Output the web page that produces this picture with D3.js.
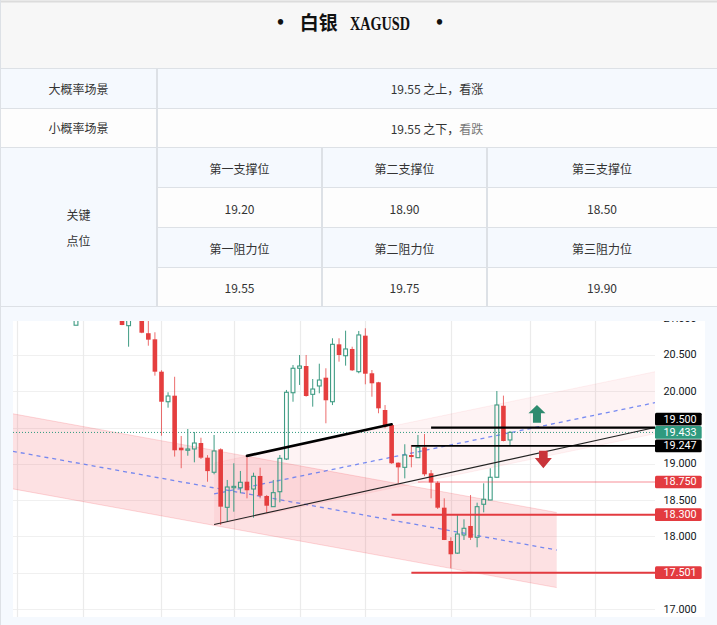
<!DOCTYPE html>
<html><head><meta charset="utf-8">
<script src="https://cdn.jsdelivr.net/npm/d3@7"></script>
<style>html,body{margin:0;padding:0;background:#fff;}svg{display:block}</style>
</head><body>
<svg id="c" width="717" height="625"></svg>
<script>
// ---------- text data ----------
const titleParts = ["•", "白银", "XAGUSD", "•"];
const scenarioLabels = ["大概率场景", "小概率场景"];
const scenarioTexts = [["19.55 之上，看涨"], ["19.55 之下，", "看跌"]];
const keyLabel = ["关键", "点位"];
const supportNames = ["第一支撑位", "第二支撑位", "第三支撑位"];
const supportValues = ["19.20", "18.90", "18.50"];
const resistNames = ["第一阻力位", "第二阻力位", "第三阻力位"];
const resistValues = ["19.55", "19.75", "19.90"];

// ---------- candle data (bar index 0..66) ----------
const opens  = [20.91,21.20,21.38,21.48,21.42,21.30,21.22,21.15,20.904,21.10,21.25,20.80,20.716,20.27,19.856,19.939,19.223,19.187,19.205,19.287,19.085,18.884,19.20,18.401,18.671,18.671,18.754,18.653,18.833,18.557,18.41,18.616,19.067,19.98,20.317,20.348,19.958,20.073,20.187,19.856,20.647,20.49,20.583,20.27,20.766,20.248,20.124,19.742,19.535,19.016,18.952,19.122,19.085,19.228,18.87,18.74,18.396,17.937,17.77,18.02,18.144,17.988,18.443,18.502,18.815,19.80,19.329];
const highs  = [21.30,21.45,21.55,21.60,21.50,21.40,21.30,21.20,21.15,21.30,21.28,21.05,20.813,20.29,19.986,20.20,19.384,19.48,19.439,19.36,19.12,19.398,19.214,18.778,19.008,18.902,19.09,18.878,18.947,18.571,18.778,19.122,20.018,20.362,20.50,20.50,20.169,20.38,20.317,20.73,20.73,20.835,20.614,20.831,20.868,20.293,20.13,19.81,19.559,19.02,19.27,19.26,19.398,19.411,18.915,18.76,18.525,17.988,18.295,18.236,18.571,18.465,18.732,18.939,20.004,19.94,19.453];
const lows   = [20.91,21.15,21.30,21.35,21.25,21.15,21.08,20.91,20.614,21.06,20.80,20.628,20.215,19.388,19.774,19.10,18.94,19.112,19.021,19.067,18.754,18.856,18.157,18.203,18.341,18.594,18.525,18.258,18.525,18.327,18.41,18.47,19.053,19.856,20.087,19.925,19.788,19.972,19.559,19.81,20.408,20.353,20.28,20.248,20.096,19.925,19.697,19.49,19.0,18.732,18.80,18.952,19.08,18.83,18.525,18.378,17.95,17.561,17.76,17.951,17.951,17.85,18.332,18.50,18.81,19.31,19.26];
const closes = [21.20,21.38,21.48,21.42,21.30,21.22,21.15,20.913,21.10,21.25,20.807,20.711,20.27,19.856,19.935,19.187,19.187,19.205,19.287,19.085,18.90,19.177,18.41,18.681,18.69,18.746,18.636,18.828,18.561,18.423,18.603,19.076,19.986,20.317,20.348,19.935,20.031,20.155,19.876,20.647,20.50,20.583,20.289,20.776,20.242,20.11,19.765,19.512,19.008,18.952,19.122,19.094,19.228,18.856,18.743,18.396,17.951,17.754,18.033,18.112,17.982,18.41,18.512,18.815,19.811,19.315,19.433];

// ---------- axis data ----------
const yTicks = [17, 17.5, 18, 18.5, 19, 19.5, 20, 20.5, 21];
const timeGrid = [-9, 1, 13, 24, 34, 44, 57, 69, 79];
const lastPrice = 19.433;

// ---------- drawings (bar index, price) ----------
const levelPrices = [19.5, 19.247, 18.75, 18.3, 17.501];
const levelStart  = [54, 51, 52, 48, 51];
const thickTrend = [[26, 19.11], [48, 19.545]];
const thinTrend  = [[21, 18.165], [66, 19.061]];          // ray to the right
const descChannel = [[-9.6, 19.69], [73.1, 18.33]];       // upper edge
const descWidth = -1.035;
const ascChannel = [[21, 19.012], [66, 19.856]];          // upper edge, ray to the right
const ascWidth = -0.854;
const arrowIdx  = [70.1, 71.07];
const arrowFrom = [19.566, 19.181];
const arrowTo   = [19.81, 18.939];

// ---------- drawing ----------
const W = 717, H = 625;
const svg = d3.select('#c');
const CN = '"Noto Sans CJK SC","Noto Sans",sans-serif';
const border = '#dde1e6', blueBg = '#f5f9fe', offWhite = '#fdfdfd';

// header
svg.append('rect').attr('x',0).attr('y',0).attr('width',W).attr('height',68).attr('fill','#f7f7f7');
svg.append('rect').attr('x',0).attr('y',0.5).attr('width',W).attr('height',2).attr('fill','#dcdcdc');
const tx = [280.5, 318.7, 380, 439.6];
titleParts.forEach((t,i)=>{
  const el = svg.append('text').attr('x',tx[i]).attr('text-anchor','middle').attr('fill','#111').text(t);
  if (i===0||i===3) el.attr('y',29).attr('font-family','"Liberation Serif",serif').attr('font-size',20).attr('font-weight','bold');
  else if (i===1) el.attr('y',30).attr('font-family',CN).attr('font-size',19).attr('font-weight',700);
  else el.attr('y',30).attr('font-family','"Liberation Serif",serif').attr('font-size',19).attr('font-weight','bold')
        .attr('textLength',60).attr('lengthAdjust','spacingAndGlyphs');
});

// table rows
const rowsY = [68,108,147,187,227,267,306];
const rowBg = [blueBg, offWhite, blueBg, offWhite, blueBg, offWhite];
rowBg.forEach((c,i)=>svg.append('rect').attr('x',0).attr('y',rowsY[i]).attr('width',W).attr('height',rowsY[i+1]-rowsY[i]).attr('fill',c));
svg.append('rect').attr('x',0).attr('y',147).attr('width',157).attr('height',159).attr('fill',blueBg);
// chart row bg
svg.append('rect').attr('x',0).attr('y',306).attr('width',W).attr('height',H-306).attr('fill',blueBg);

function txt(x,y,t,size,fill){
  return svg.append('text').attr('x',x).attr('y',y).attr('text-anchor','middle').attr('dominant-baseline','central')
    .attr('font-family',CN).attr('font-size',size||12).attr('fill',fill||'#333').text(t);
}
scenarioLabels.forEach((t,i)=>txt(78.5,(rowsY[i]+rowsY[i+1])/2,t));
scenarioTexts.forEach((parts,i)=>{
  const el = txt(437,(rowsY[i]+rowsY[i+1])/2,'');
  parts.forEach((p,k)=>el.append('tspan').attr('fill',k===1?'#777':'#333').text(p));
});
txt(78.5,214,keyLabel[0]); txt(78.5,240,keyLabel[1]);
const colC = [239.5, 404.5, 602];
supportNames.forEach((t,i)=>txt(colC[i],168,t));
supportValues.forEach((t,i)=>txt(colC[i],208,t));
resistNames.forEach((t,i)=>txt(colC[i],248,t));
resistValues.forEach((t,i)=>txt(colC[i],287.5,t));

// borders
const bl = svg.append('g').attr('stroke',border).attr('stroke-width',1.2).attr('shape-rendering','crispEdges');
rowsY.forEach(v=>{
  const inner = (v===187||v===227||v===267);
  bl.append('line').attr('x1',inner?157:0).attr('x2',W).attr('y1',v+0.5).attr('y2',v+0.5);
});
bl.append('line').attr('x1',157).attr('x2',157).attr('y1',68).attr('y2',306);
[322,487].forEach(v=>bl.append('line').attr('x1',v).attr('x2',v).attr('y1',147).attr('y2',306));
bl.append('line').attr('x1',0.5).attr('x2',0.5).attr('y1',0).attr('y2',H);

// ---------- chart ----------
const plot = {l:13, r:655, t:321, b:617, axisR:705};
svg.append('rect').attr('x',plot.l).attr('y',plot.t).attr('width',plot.axisR-plot.l).attr('height',plot.b-plot.t).attr('fill','#fff');
const x = d3.scaleLinear().domain([0,66]).range([76,510]);
const y = d3.scaleLinear().domain([17,21]).range([609,318.7]);
const defs = svg.append('defs');
defs.append('clipPath').attr('id','pc').append('rect').attr('x',plot.l).attr('y',plot.t).attr('width',plot.r-plot.l).attr('height',plot.b-plot.t);
defs.append('clipPath').attr('id','ac').append('rect').attr('x',plot.r).attr('y',plot.t).attr('width',plot.axisR-plot.r).attr('height',plot.b-plot.t);
const g = svg.append('g').attr('clip-path','url(#pc)');
const xEnd = x.invert(plot.r);

// grid
g.append('g').selectAll('line').data(yTicks).join('line')
  .attr('x1',plot.l).attr('x2',plot.r).attr('y1',d=>Math.round(y(d))+0.5).attr('y2',d=>Math.round(y(d))+0.5)
  .attr('stroke','#f0f0f0').attr('stroke-width',1.2);
g.append('g').selectAll('line').data(timeGrid).join('line')
  .attr('x1',d=>Math.round(x(d))+0.5).attr('x2',d=>Math.round(x(d))+0.5).attr('y1',plot.t).attr('y2',plot.b)
  .attr('stroke','#ebebeb').attr('stroke-width',1.2);

// channels
function lineAt(seg, i){ const [a,b]=seg; return a[1]+(b[1]-a[1])*(i-a[0])/(b[0]-a[0]); }
function channel(seg, width, endIdx, fillOp){
  const i0 = seg[0][0], i1 = endIdx;
  const up0 = lineAt(seg,i0), up1 = lineAt(seg,i1);
  const pts = [[i0,up0],[i1,up1],[i1,up1+width],[i0,up0+width]];
  g.append('path').attr('d', d3.line().x(d=>x(d[0])).y(d=>y(d[1]))(pts)+'Z')
    .attr('fill','rgba(242,54,69,'+fillOp+')');
  [0,width].forEach(o=>g.append('line').attr('x1',x(i0)).attr('x2',x(i1)).attr('y1',y(up0+o)).attr('y2',y(up1+o))
    .attr('stroke','rgba(242,54,69,'+(fillOp*1.2)+')').attr('stroke-width',1));
  g.append('line').attr('x1',x(i0)).attr('x2',x(i1)).attr('y1',y(up0+width/2)).attr('y2',y(up1+width/2))
    .attr('stroke','#6079f2').attr('stroke-width',1.3).attr('stroke-dasharray','4,4').attr('opacity',0.85);
}
channel(descChannel, descWidth, descChannel[1][0], 0.15);
channel(ascChannel, ascWidth, xEnd, 0.06);

// last price dotted line
g.append('line').attr('x1',plot.l).attr('x2',plot.r).attr('y1',y(lastPrice)).attr('y2',y(lastPrice))
  .attr('stroke','#2f9a7f').attr('stroke-width',1).attr('stroke-dasharray','1,2');

// candles
const GREEN = '#3f9c84', RED = '#e53e3e';
const idx = d3.range(opens.length);
const cg = g.append('g');
idx.forEach(i=>{
  const o=opens[i], c=closes[i], h=highs[i], l=lows[i], cx=x(i);
  const top = y(Math.max(o,c)), bot = Math.max(y(Math.min(o,c)), top+1);
  if (c >= o) {
    cg.append('line').attr('x1',cx).attr('x2',cx).attr('y1',y(h)).attr('y2',top).attr('stroke',GREEN).attr('stroke-width',1);
    cg.append('line').attr('x1',cx).attr('x2',cx).attr('y1',bot).attr('y2',y(l)).attr('stroke',GREEN).attr('stroke-width',1);
    cg.append('rect').attr('x',cx-1.9).attr('y',top).attr('width',3.8).attr('height',bot-top)
      .attr('fill','none').attr('stroke',GREEN).attr('stroke-width',1.1);
  } else {
    cg.append('line').attr('x1',cx).attr('x2',cx).attr('y1',y(h)).attr('y2',y(l)).attr('stroke','rgba(229,62,62,0.75)').attr('stroke-width',1);
    cg.append('rect').attr('x',cx-2.3).attr('y',top).attr('width',4.6).attr('height',bot-top).attr('fill',RED);
  }
});

// trend lines
g.append('line').attr('x1',x(thickTrend[0][0])).attr('y1',y(thickTrend[0][1])).attr('x2',x(thickTrend[1][0])).attr('y2',y(thickTrend[1][1]))
  .attr('stroke','#000').attr('stroke-width',2.6).attr('stroke-linecap','round');
g.append('line').attr('x1',x(thinTrend[0][0])).attr('y1',y(thinTrend[0][1])).attr('x2',x(xEnd)).attr('y2',y(lineAt(thinTrend,xEnd)))
  .attr('stroke','#222').attr('stroke-width',1.1);

// horizontal levels
const levelStroke = ['#000','#000','rgba(242,54,69,0.28)','#e33b40','#e33b40'];
const levelW = [2.2, 1.6, 2, 2, 2];
const levelBox = ['#000','#000','#e33b40','#e33b40','#e33b40'];
levelPrices.forEach((p,i)=>{
  g.append('line').attr('x1',x(levelStart[i])).attr('x2',plot.r).attr('y1',y(p)).attr('y2',y(p))
    .attr('stroke',levelStroke[i]).attr('stroke-width',levelW[i]);
});

// arrows
function arrow(i, from, to, color){
  const cx = x(arrowIdx[i]), y0 = y(from), y1 = y(to);
  const dir = y1 < y0 ? -1 : 1;       // -1 up
  const head = dir<0 ? 8.3 : 10.3, hw = 8.5, sw = dir<0 ? 4 : 4.3;
  const hb = y1 - dir*head;
  const d = `M${cx},${y1} L${cx+hw},${hb} L${cx+sw},${hb} L${cx+sw},${y0} L${cx-sw},${y0} L${cx-sw},${hb} L${cx-hw},${hb} Z`;
  g.append('path').attr('d',d).attr('fill',color);
}
arrow(0, arrowFrom[0], arrowTo[0], '#2e8b6f');
arrow(1, arrowFrom[1], arrowTo[1], '#c9343a');

// ---------- price axis ----------
const ag = svg.append('g').attr('clip-path','url(#ac)');
const fmt = d3.format('.3f');
const boxH = 13.3;
let boxes = levelPrices.map((p,i)=>({p, y:y(p), color:levelBox[i], fixed:false}));
boxes.push({p:lastPrice, y:y(lastPrice), color:'#2f9a7f', fixed:true});
boxes.sort((a,b)=>a.y-b.y);
const fi = boxes.findIndex(b=>b.fixed);
for (let k=fi-1;k>=0;k--) boxes[k].y = Math.min(boxes[k].y, boxes[k+1].y-boxH);
for (let k=fi+1;k<boxes.length;k++) boxes[k].y = Math.max(boxes[k].y, boxes[k-1].y+boxH);

const tickFont = 'Roboto, "Liberation Sans", sans-serif';
yTicks.filter(t=>!boxes.some(b=>Math.abs(b.y-y(t))<11)).forEach(t=>{
  ag.append('text').attr('x',663.5).attr('y',y(t)).attr('dominant-baseline','central')
    .attr('font-family',tickFont).attr('font-size',10.8).attr('fill','#131722').text(fmt(t));
});
boxes.forEach(b=>{
  const gb = ag.append('g');
  const rect = gb.append('rect').attr('x',plot.r).attr('y',b.y-boxH/2+0.3).attr('height',boxH-0.6).attr('rx',1.5).attr('fill',b.color);
  const t = gb.append('text').attr('x',663.5).attr('y',b.y).attr('dominant-baseline','central')
    .attr('font-family',tickFont).attr('font-size',10.8).attr('fill','#fff').text(fmt(b.p));
  const w = t.node().getComputedTextLength();
  rect.attr('width', (663.5-plot.r)+w+5);
});
</script>
</body></html>
